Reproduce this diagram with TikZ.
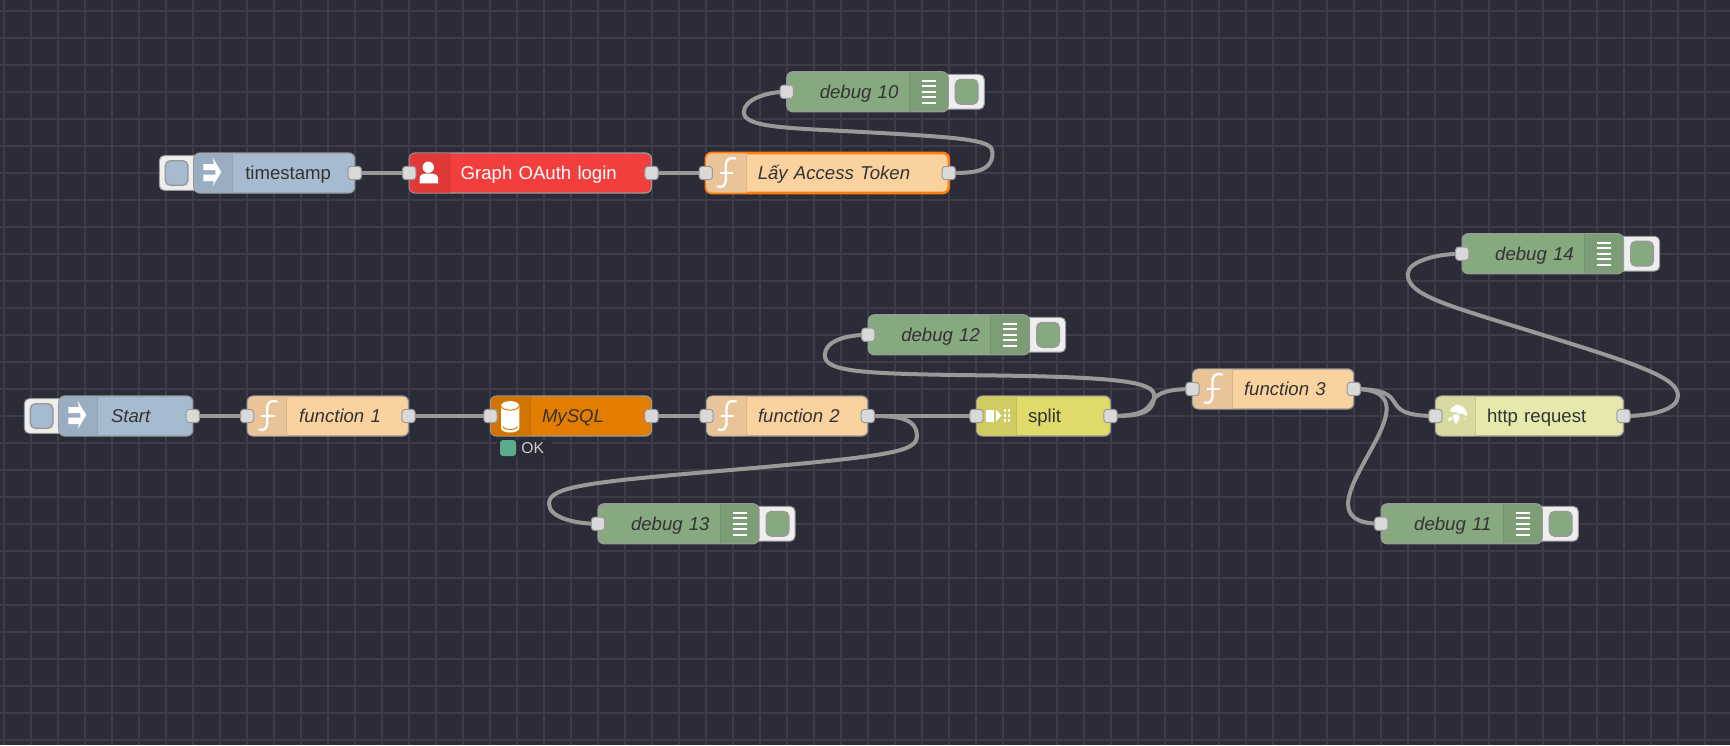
\documentclass[tikz,border=0pt]{standalone}
\usepackage{fontspec}
\setmainfont{Liberation Sans}
\definecolor{canvas}{HTML}{2C2C38}
\definecolor{gridcol}{HTML}{3D3D49}
\definecolor{edge}{HTML}{999999}
\definecolor{wirecol}{HTML}{999999}
\definecolor{portcol}{HTML}{D9D9D9}
\definecolor{btncol}{HTML}{EEEEEE}
\definecolor{injectbody}{HTML}{A6BBCF}
\definecolor{injectshade}{HTML}{9BAEC1}
\definecolor{funcbody}{HTML}{FAD2A0}
\definecolor{funcshade}{HTML}{E9C498}
\definecolor{oauthbody}{HTML}{F23E3D}
\definecolor{oauthshade}{HTML}{E03A38}
\definecolor{sqlbody}{HTML}{E27D00}
\definecolor{sqlshade}{HTML}{D17400}
\definecolor{debugbody}{HTML}{87A980}
\definecolor{debugshade}{HTML}{7D9D77}
\definecolor{splitbody}{HTML}{DEDB6B}
\definecolor{splitshade}{HTML}{CFCC63}
\definecolor{httpbody}{HTML}{E6E8AC}
\definecolor{httpshade}{HTML}{D7D9A0}
\definecolor{selected}{HTML}{FF7F0E}
\definecolor{okcol}{HTML}{5AAB8A}
\definecolor{inktext}{HTML}{333333}
\pgfdeclarelayer{gridlayer}
\pgfdeclarelayer{wirelayer}
\pgfsetlayers{gridlayer,wirelayer,main}
\tikzset{
  gridline/.style={draw=gridcol,line width=0.8pt},
  wire/.style={draw=wirecol,line width=2pt},
  nodebody/.style={rectangle,rounded corners=3pt,draw=edge,line width=0.6pt,inner sep=0pt,outer sep=0pt,
    minimum height=20pt,text height=7pt,text depth=0.7pt,align=left,text=inktext,
    font=\fontsize{9.3}{11}\selectfont},
  port/.style={rectangle,rounded corners=1.5pt,draw=edge,line width=0.5pt,fill=portcol,inner sep=0pt,outer sep=0pt,minimum size=6.6pt},
  btn/.style={rectangle,rounded corners=2.5pt,draw=edge,line width=0.5pt,fill=btncol,inner sep=0pt,outer sep=0pt,minimum height=17.4pt},
  btninner/.style={rectangle,rounded corners=2.5pt,draw=edge,line width=0.7pt,inner sep=0pt,outer sep=0pt,minimum width=11.3pt,minimum height=12.3pt},
  iconfill/.style={fill=white,draw=none},
  iconline/.style={draw=white,line width=1.15pt},
}
% [body options]{name}{x1}{x2}{yc}{divider}{palette}{pad}{label}
\newcommand{\flownode}[9][]{%
  \node[nodebody,fill=#7body,minimum width={(#4-#3-1)*0.5pt},text width={(#4-#3-1)*0.5pt},#1] (#2) at ({(#3+#4)/2},#5)
    {\hspace*{\dimexpr#8pt/2\relax}#9};
  \begin{scope}
    \clip[rounded corners=2.7pt] (#3+0.8,#5-19.6) rectangle (#4-0.8,#5+19.6);
    \ifdim#6pt<\dimexpr(#3pt+#4pt)/2\relax
      \fill[#7shade] (#3,#5-21) rectangle (#6,#5+21);
    \else
      \fill[#7shade] (#6,#5-21) rectangle (#4,#5+21);
    \fi
    \draw[#7shade!93!black,line width=0.45pt] (#6,#5-21) -- (#6,#5+21);
  \end{scope}
}
\newcommand{\inport}[1]{\node[port] (#1-in) at (#1.west) {};}
\newcommand{\outport}[1]{\node[port] (#1-out) at (#1.east) {};}
% {name}{x1}{yc}{palette}
\newcommand{\leftbutton}[4]{%
  \node[btn,minimum width=22pt] (#1-btn) at (#2-12,#3) {};
  \node[btninner,fill=#4body] (#1-btnin) at (#2-16.7,#3) {};
}
% {name}{x2}{yc}
\newcommand{\rightbutton}[3]{%
  \node[btn,minimum width=22.6pt] (#1-btn) at (#2+13,#3) {};
  \node[btninner,fill=debugbody] (#1-btnin) at (#2+18,#3) {};
}
\newcommand{\injecticon}[2]{%
  \begin{scope}[shift={(#1,#2)}]
    \fill[iconfill] (10,-9) -- (20.5,-9) -- (19.5,-15) -- (28,-1) -- (19.5,13) -- (20.5,8) -- (10,8) -- (10,1.5) -- (22,1.5) -- (22,-3) -- (10,-3) -- cycle;
  \end{scope}}
\newcommand{\funcicon}[2]{%
  \begin{scope}[shift={(#1,#2)}]
    \draw[iconline,line cap=round] (30,-14.5) .. controls (24,-16) and (20.5,-14) .. (20.5,-7) -- (20.5,6) .. controls (20.5,13) and (17,15) .. (12.5,13.5);
    \draw[iconline] (14.5,0) -- (28,0);
  \end{scope}}
\newcommand{\debuglines}[2]{%
  \begin{scope}[shift={(#1,#2)}]
    \foreach \dy in {-11,-5.5,0,5.5,11} \draw[draw=white,line width=1pt] (-27,\dy) -- (-13,\dy);
  \end{scope}}
\begin{document}
\begin{tikzpicture}[x=0.5pt,y=-0.5pt]
\useasboundingbox (0,0) rectangle (1730,745);
\begin{pgfonlayer}{gridlayer}
  \fill[canvas] (0,0) rectangle (1730,745);
  \foreach \k in {0,...,63} \draw[gridline] ({4+27*\k},0) -- ({4+27*\k},745);
  \foreach \k in {0,...,27} \draw[gridline] (0,{11+27*\k}) -- (1730,{11+27*\k});
\end{pgfonlayer}

% top flow
\leftbutton{timestamp}{193.3}{173}{inject}
\flownode{timestamp}{193.3}{355.3}{173}{232.7}{inject}{51.5}{timestamp}
\injecticon{193.3}{173}
\flownode[text=white]{oauth}{408.7}{652}{173}{449}{oauth}{51.5}{Graph OAuth login}
\begin{scope}[shift={(408.7,173)}]
  \fill[iconfill] (19.6,-5.7) circle (5.7);
  \fill[iconfill] (10.8,10.3) -- (10.8,6) .. controls (10.8,2) and (14,0.5) .. (16,0.5) -- (23.5,0.5) .. controls (26,0.5) and (29.5,2) .. (29.5,6) -- (29.5,10.3) -- cycle;
\end{scope}
\flownode[draw=selected,line width=1.3pt]{token}{705.3}{949.3}{173}{746}{func}{52}{\itshape Lấy Access Token}
\funcicon{705.3}{173}
\rightbutton{debugten}{948.7}{91.8}
\flownode{debugten}{786.3}{948.7}{91.8}{909.3}{debug}{33}{\itshape debug 10}
\debuglines{948.7}{91.8}

% main flow
\leftbutton{start}{58.3}{416}{inject}
\flownode{start}{58.3}{193.3}{416}{97.7}{inject}{52.2}{\itshape Start}
\injecticon{58.3}{416}
\flownode{functionone}{246.7}{409}{416}{286.7}{func}{52}{\itshape function 1}
\funcicon{246.7}{416}
\flownode{mysql}{490}{652}{416}{530}{sql}{51.5}{\itshape MySQL}
\begin{scope}[shift={(490,416)}]
  \fill[iconfill] (11,-10) -- (11,12) .. controls (11,18) and (29.3,18) .. (29.3,12) -- (29.3,-10) .. controls (29.3,-16.5) and (11,-16.5) .. (11,-10) -- cycle;
  \draw[sqlbody,line width=0.5pt] (11.5,-10) .. controls (11.5,-4.5) and (28.8,-4.5) .. (28.8,-10);
  \draw[sqlbody,line width=0.5pt] (13,10.5) .. controls (14,14.5) and (26.3,14.5) .. (27.3,10.5);
\end{scope}
\fill[canvas] (497,440) rectangle (552,456.5);
\node[rectangle,rounded corners=1.5pt,fill=okcol,inner sep=0pt,outer sep=0pt,minimum size=8pt] (mysql-dot) at (508,448) {};
\node[anchor=west,inner sep=0pt,text=white!80!black,font=\fontsize{7.85}{9}\selectfont] (mysql-status) at (521,448.5) {OK};
\flownode{functiontwo}{706}{868.3}{416}{746}{func}{51.5}{\itshape function 2}
\funcicon{706}{416}
\flownode{split}{976}{1111}{416}{1016}{split}{51.5}{split}
\begin{scope}[shift={(976,416)}]
  \fill[iconfill] (10,-6.3) rectangle (17.7,5.5);
  \fill[iconfill] (20,-6) -- (25.5,-0.5) -- (20,5.5) -- cycle;
  \foreach \cx in {27.5,31.5} \foreach \cy in {-7,-2,3} \fill[iconfill] (\cx,\cy) rectangle +(2.8,2.8);
\end{scope}
\flownode{functionthree}{1192}{1354.3}{389}{1232}{func}{51.5}{\itshape function 3}
\funcicon{1192}{389}
\flownode{http}{1435}{1624}{416}{1475}{http}{51.5}{http request}
\begin{scope}[shift={(1457.7,414)},rounded corners=0.6pt]
  \fill[iconfill] (-6.7,-6) -- (0,-10) -- (6.7,-6) -- (10,0.7) -- (7.7,2.3) -- (5,-1) -- (1.7,0.7) -- (-1.7,-2.7) -- (-5,-1) -- (-7.7,-3.3) -- cycle;
  \fill[iconfill] (-5,0.7) -- (0,0) -- (2.3,3.3) -- (0,7.3) -- (-1.7,10.7) -- (-3.3,8) -- (-4.3,4.7) -- cycle;
  \fill[iconfill] (-10,4.7) -- (-5.7,2.3) -- (-5,4.7) -- (-8.3,8) -- cycle;
  \fill[iconfill] (6.7,4) -- (8.3,3.3) -- (7.7,6.7) -- cycle;
\end{scope}
\rightbutton{debugtwelve}{1030}{334.8}
\flownode{debugtwelve}{867.8}{1030}{334.8}{990.7}{debug}{33}{\itshape debug 12}
\debuglines{1030}{334.8}
\rightbutton{debugthirteen}{759.5}{523.8}
\flownode{debugthirteen}{597.5}{759.5}{523.8}{720}{debug}{33}{\itshape debug 13}
\debuglines{759.5}{523.8}
\rightbutton{debugeleven}{1542.7}{523.8}
\flownode{debugeleven}{1380.7}{1542.7}{523.8}{1503.3}{debug}{33}{\itshape debug 11}
\debuglines{1542.7}{523.8}
\rightbutton{debugfourteen}{1624}{253.7}
\flownode{debugfourteen}{1461.7}{1624}{253.7}{1584.3}{debug}{33}{\itshape debug 14}
\debuglines{1624}{253.7}

% ports
\outport{timestamp}
\inport{oauth}\outport{oauth}
\inport{token}\outport{token}
\inport{debugten}
\outport{start}
\inport{functionone}\outport{functionone}
\inport{mysql}\outport{mysql}
\inport{functiontwo}\outport{functiontwo}
\inport{split}\outport{split}
\inport{functionthree}\outport{functionthree}
\inport{http}\outport{http}
\inport{debugtwelve}
\inport{debugthirteen}
\inport{debugeleven}
\inport{debugfourteen}

\begin{pgfonlayer}{wirelayer}
  \draw[wire] (timestamp-out.center) -- (oauth-in.center);
  \draw[wire] (oauth-out.center) -- (token-in.center);
  \draw[wire] (start-out.center) -- (functionone-in.center);
  \draw[wire] (functionone-out.center) -- (mysql-in.center);
  \draw[wire] (mysql-out.center) -- (functiontwo-in.center);
  \draw[wire] (functiontwo-out.center) -- (split-in.center);
  % token -> debug 10
  \draw[wire] (token-out.center) .. controls (971,173) and (992.5,173) .. (992.5,152.75)
     .. controls (992.5,141) and (975,138) .. (868,132.3)
     .. controls (790,128) and (743.8,128) .. (743.8,112.25)
     .. controls (743.8,100) and (765.4,91.8) .. (debugten-in.center);
  % function 2 -> debug 13
  \draw[wire] (functiontwo-out.center) .. controls (892.6,416) and (916.9,416) .. (916.9,436)
     .. controls (916.9,452) and (890,456) .. (733,469.8)
     .. controls (590,482) and (549,486) .. (549,503.75)
     .. controls (549,517) and (573,523.8) .. (debugthirteen-in.center);
  % split -> debug 12
  \draw[wire] (split-out.center) .. controls (1132.6,416) and (1154.2,416) .. (1154.2,395.75)
     .. controls (1154.2,382) and (1120,377) .. (989.5,375.4)
     .. controls (860,374) and (824.8,372) .. (824.8,355)
     .. controls (824.8,341) and (846,334.8) .. (debugtwelve-in.center);
  % split -> function 3
  \draw[wire] (split-out.center) .. controls (1175,416) and (1128,389) .. (functionthree-in.center);
  % function 3 -> http request
  \draw[wire] (functionthree-out.center) .. controls (1418,389) and (1371,416) .. (http-in.center);
  % function 3 -> debug 11
  \draw[wire] (functionthree-out.center) .. controls (1455.5,389) and (1279,523.8) .. (debugeleven-in.center);
  % http request -> debug 14
  \draw[wire] (http-out.center) .. controls (1651,416) and (1678,410) .. (1678,395.75)
     .. controls (1678,378) and (1640,365) .. (1543,335)
     .. controls (1450,306) and (1407.7,296) .. (1407.7,274.25)
     .. controls (1407.7,262) and (1434.7,253.7) .. (debugfourteen-in.center);
\end{pgfonlayer}
\end{tikzpicture}
\end{document}
